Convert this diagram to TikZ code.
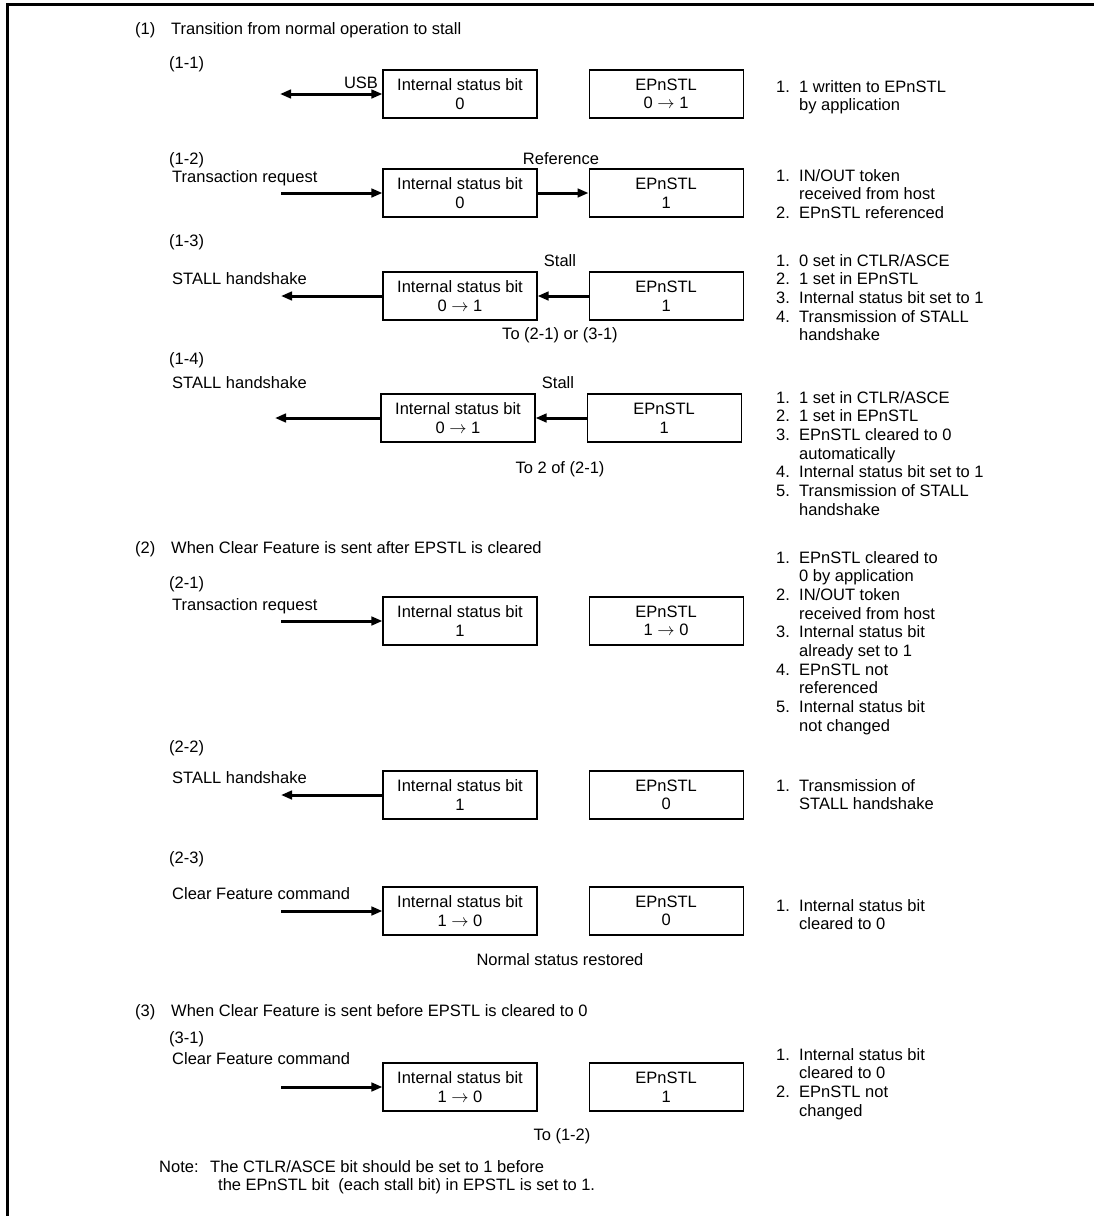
\documentclass[tikz,border=0pt]{standalone}
\usepackage{fontspec}
\setmainfont{Liberation Sans}
\usetikzlibrary{positioning,arrows.meta}
\newcommand{\steplist}[1]{\begin{tabular}[t]{@{}p{23pt}@{}l@{}}#1\end{tabular}}
\newcommand{\goesto}{$\rightarrow$}
\newcommand{\secnum}[1]{\makebox[36pt][l]{#1}}

\begin{document}
\begin{tikzpicture}[x=1pt,y=-1pt,font=\fontsize{16.5}{18.7}\selectfont,node distance=51pt,
  >={Triangle[length=11pt,width=8.5pt]},
  regbox/.style={draw,line width=1.1pt,minimum width=154pt,minimum height=48pt,align=center,
    inner sep=0pt,font=\fontsize{16.5}{18.5}\selectfont,execute at begin node=\rule{0pt}{16pt}},
  lbl/.style={anchor=base west,inner sep=0pt},
  clbl/.style={anchor=base,inner sep=0pt},
  flow/.style={line width=3pt}]
\useasboundingbox (0,0) rectangle (1094,1216);
\draw[line width=3pt] (1094,4) -- (7,4) -- (7,1216);

% (1) normal operation -> stall
\node[lbl] (h1) at (135,34) {\secnum{(1)}Transition from normal operation to stall};

% (1-1)
\node[lbl] (t11) at (169,68) {(1-1)};
\node[regbox] (is11) at (460,94) {Internal status bit\\0};
\node[regbox,right=of is11] (ep11) {EPnSTL\\0 \goesto\ 1};
\coordinate (u11) at (280,94);
\draw[flow,<->] (u11) -- (is11);
\node[clbl] (usb) at (361,88) {USB};
\node[lbl] (n11) at (776,92) {\steplist{1. & 1 written to EPnSTL\\ & by application}};

% (1-2)
\node[lbl] (t12) at (169,164) {(1-2)};
\node[lbl] (q12) at (172,182) {Transaction request};
\node[regbox] (is12) at (460,193) {Internal status bit\\0};
\node[regbox,right=of is12] (ep12) {EPnSTL\\1};
\coordinate (u12) at (281,193);
\draw[flow,->] (u12) -- (is12); \draw[flow,->] (is12) -- (ep12);
\node[clbl] (ref12) at (561,164) {Reference};
\node[lbl] (n12) at (776,181) {\steplist{1. & IN/OUT token\\ & received from host\\2. & EPnSTL referenced}};

% (1-3)
\node[lbl] (t13) at (169,246) {(1-3)};
\node[lbl] (q13) at (172,284) {STALL handshake};
\node[regbox] (is13) at (460,296) {Internal status bit\\0 \goesto\ 1};
\node[regbox,right=of is13] (ep13) {EPnSTL\\1};
\coordinate (u13) at (281,296);
\draw[flow,->] (is13) -- (u13); \draw[flow,->] (ep13) -- (is13);
\node[clbl] (st13) at (560,266) {Stall};
\node[clbl] (to13) at (560,339) {To (2-1) or (3-1)};
\node[lbl] (n13) at (776,266) {\steplist{1. & 0 set in CTLR/ASCE\\2. & 1 set in EPnSTL\\3. & Internal status bit set to 1\\
  4. & Transmission of STALL\\ & handshake}};

% (1-4)
\node[lbl] (t14) at (169,364) {(1-4)};
\node[lbl] (q14) at (172,388) {STALL handshake};
\node[regbox] (is14) at (458,418) {Internal status bit\\0 \goesto\ 1};
\node[regbox,right=of is14] (ep14) {EPnSTL\\1};
\coordinate (u14) at (275,418);
\draw[flow,->] (is14) -- (u14); \draw[flow,->] (ep14) -- (is14);
\node[clbl] (st14) at (558,388) {Stall};
\node[clbl] (to14) at (560,473) {To 2 of (2-1)};
\node[lbl] (n14) at (776,403) {\steplist{1. & 1 set in CTLR/ASCE\\2. & 1 set in EPnSTL\\3. & EPnSTL cleared to 0\\ & automatically\\
  4. & Internal status bit set to 1\\5. & Transmission of STALL\\ & handshake}};

% (2) clear feature after EPSTL cleared
\node[lbl] (h2) at (135,553) {\secnum{(2)}When Clear Feature is sent after EPSTL is cleared};

% (2-1)
\node[lbl] (t21) at (169,588) {(2-1)};
\node[lbl] (q21) at (172,610) {Transaction request};
\node[regbox] (is21) at (460,621) {Internal status bit\\1};
\node[regbox,right=of is21] (ep21) {EPnSTL\\1 \goesto\ 0};
\coordinate (u21) at (281,621);
\draw[flow,->] (u21) -- (is21);
\node[lbl] (n21) at (776,563) {\steplist{1. & EPnSTL cleared to\\ & 0 by application\\2. & IN/OUT token\\ & received from host\\
  3. & Internal status bit\\ & already set to 1\\4. & EPnSTL not\\ & referenced\\5. & Internal status bit\\ & not changed}};

% (2-2)
\node[lbl] (t22) at (169,752) {(2-2)};
\node[lbl] (q22) at (172,783) {STALL handshake};
\node[regbox] (is22) at (460,795) {Internal status bit\\1};
\node[regbox,right=of is22] (ep22) {EPnSTL\\0};
\coordinate (u22) at (281,795);
\draw[flow,->] (is22) -- (u22);
\node[lbl] (n22) at (776,791) {\steplist{1. & Transmission of\\ & STALL handshake}};

% (2-3)
\node[lbl] (t23) at (169,863) {(2-3)};
\node[lbl] (q23) at (172,899) {Clear Feature command};
\node[regbox] (is23) at (460,911) {Internal status bit\\1 \goesto\ 0};
\node[regbox,right=of is23] (ep23) {EPnSTL\\0};
\coordinate (u23) at (281,911);
\draw[flow,->] (u23) -- (is23);
\node[clbl] (to23) at (560,965) {Normal status restored};
\node[lbl] (n23) at (776,911) {\steplist{1. & Internal status bit\\ & cleared to 0}};

% (3) clear feature before EPSTL cleared
\node[lbl] (h3) at (135,1016) {\secnum{(3)}When Clear Feature is sent before EPSTL is cleared to 0};

% (3-1)
\node[lbl] (t31) at (169,1043) {(3-1)};
\node[lbl] (q31) at (172,1064) {Clear Feature command};
\node[regbox] (is31) at (460,1087) {Internal status bit\\1 \goesto\ 0};
\node[regbox,right=of is31] (ep31) {EPnSTL\\1};
\coordinate (u31) at (281,1087);
\draw[flow,->] (u31) -- (is31);
\node[clbl] (to31) at (562,1140) {To (1-2)};
\node[lbl] (n31) at (776,1060) {\steplist{1. & Internal status bit\\ & cleared to 0\\2. & EPnSTL not\\ & changed}};

\node[lbl] (note) at (159,1172) {\begin{tabular}[t]{@{}p{51pt}@{}l@{}}Note: & The CTLR/ASCE bit should be set to 1 before\\
  & \hspace{8pt}the EPnSTL bit\ \ (each stall bit) in EPSTL is set to 1.\end{tabular}};
\end{tikzpicture}
\end{document}
